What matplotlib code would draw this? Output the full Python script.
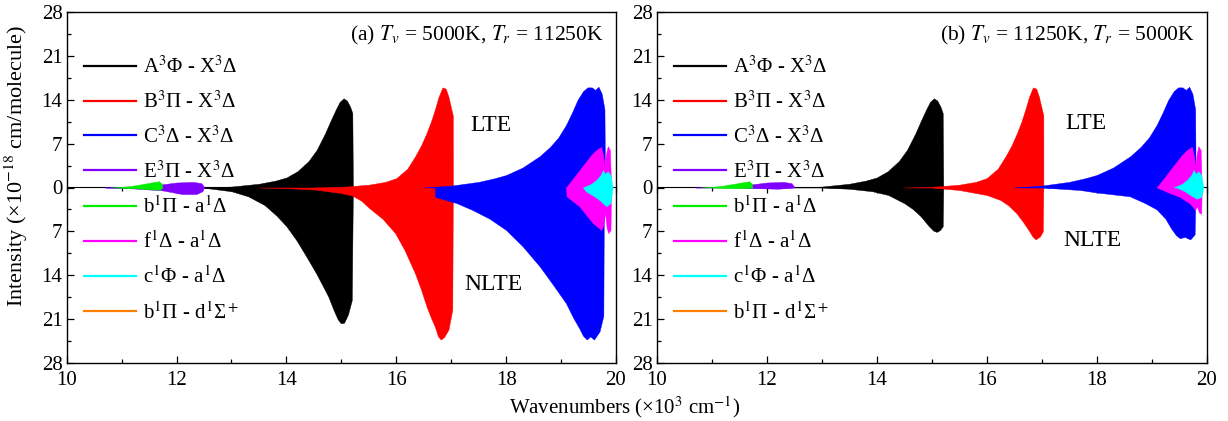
import matplotlib
matplotlib.use("Agg")
import matplotlib.pyplot as plt
from matplotlib.lines import Line2D
from matplotlib.ticker import MultipleLocator, FuncFormatter, NullFormatter

plt.rcParams['font.family'] = ['Liberation Serif', 'DejaVu Serif']
plt.rcParams['mathtext.fontset'] = 'stix'

# ---------------- data (envelopes) ----------------
# wavenumber in 10^3 cm^-1, intensity in 10^-18 cm/molecule (NLTE plotted negative)
A_lte = [(12.5, 0), (13.0, 0.15), (13.5, 0.6), (13.8, 1.1), (14.0, 1.6), (14.2, 2.6),
         (14.4, 4.2), (14.55, 6.0), (14.7, 8.6), (14.8, 10.6), (14.9, 12.5), (14.97, 13.7),
         (15.04, 14.25), (15.1, 13.9), (15.16, 12.9), (15.2, 11.9), (15.21, 0)]
A_nlte_a = [(12.3, 0), (12.6, -0.15), (13.0, -0.6), (13.3, -1.4), (13.6, -2.8), (13.82, -4.5),
            (14.0, -6.2), (14.18, -8.4), (14.36, -11.0), (14.54, -13.7), (14.66, -15.7),
            (14.76, -17.4), (14.86, -19.6), (14.93, -21.0), (14.99, -21.7), (15.05, -21.6),
            (15.12, -20.3), (15.19, -18.0), (15.21, 0)]
A_nlte_b = [(13.0, 0), (13.5, -0.2), (13.92, -0.6), (14.21, -1.2), (14.5, -2.5), (14.65, -3.4),
            (14.8, -4.6), (14.95, -6.2), (15.03, -6.9), (15.09, -7.1), (15.15, -6.8),
            (15.2, -6.2), (15.21, 0)]

B_lte = [(14.5, 0), (15.0, 0.1), (15.5, 0.45), (15.8, 0.9), (16.0, 1.5), (16.2, 3.0),
         (16.34, 4.95), (16.45, 6.7), (16.55, 8.7), (16.63, 10.5), (16.7, 12.4), (16.77, 14.5),
         (16.84, 16.0), (16.9, 15.8), (16.95, 14.5), (17.0, 12.6), (17.03, 11.5), (17.031, 0)]
B_nlte_a = [(13.5, 0), (14.0, -0.1), (14.5, -0.3), (15.0, -0.9), (15.2, -1.3), (15.36, -2.1),
            (15.51, -3.3), (15.75, -5.0), (15.98, -7.3), (16.15, -10.0), (16.34, -13.7),
            (16.45, -16.3), (16.55, -19.0), (16.63, -20.8), (16.7, -22.2), (16.76, -23.8),
            (16.81, -24.3), (16.87, -23.9), (16.95, -22.7), (17.02, -19.5), (17.03, 0)]
B_nlte_b = [(15.0, 0), (15.5, -0.4), (16.0, -1.2), (16.25, -2.0), (16.4, -2.9), (16.54, -4.1),
            (16.66, -5.5), (16.76, -6.8), (16.83, -7.8), (16.89, -8.3), (16.97, -7.8),
            (17.02, -7.0), (17.03, 0)]

C_lte = [(16.5, 0), (17.0, 0.3), (17.5, 0.9), (17.8, 1.5), (18.0, 2.0), (18.3, 3.2),
         (18.61, 5.0), (18.8, 6.5), (18.95, 8.0), (19.09, 10.0), (19.2, 12.0), (19.3, 14.0),
         (19.4, 15.4), (19.48, 16.0), (19.56, 16.0), (19.62, 15.6), (19.68, 16.1),
         (19.74, 15.0), (19.79, 12.5), (19.8, 0)]
C_nlte_a = [(16.7, 0), (16.71, -1.5), (16.79, -1.7), (17.1, -2.5), (17.39, -3.6), (17.7, -5.0),
            (18.0, -6.8), (18.3, -9.4), (18.61, -12.6), (18.85, -15.5), (19.09, -18.5),
            (19.22, -20.8), (19.33, -22.5), (19.4, -23.7), (19.47, -24.3), (19.53, -23.8),
            (19.6, -24.3), (19.7, -23.0), (19.77, -20.5), (19.78, 0)]
C_nlte_b = [(17.0, 0), (17.7, -0.4), (18.0, -0.8), (18.6, -1.4), (18.88, -2.5), (19.09, -3.5),
            (19.25, -5.0), (19.35, -6.5), (19.44, -7.6), (19.51, -8.1), (19.6, -7.9),
            (19.7, -8.3), (19.78, -7.5), (19.8, 0)]

E_lte = [(10.7, 0), (11.5, 0.05), (11.73, 0.5), (12.0, 0.8), (12.3, 0.9), (12.45, 0.7), (12.51, 0)]
E_nlte_a = [(10.7, 0), (11.2, -0.15), (11.73, -0.45), (11.8, -0.55), (12.1, -1.05),
            (12.36, -1.05), (12.47, -0.6), (12.5, 0)]
E_nlte_b = [(11.5, 0), (11.8, -0.1), (12.2, -0.2), (12.5, 0)]

b_lte = [(10.8, 0), (11.0, 0.1), (11.21, 0.3), (11.51, 0.75), (11.68, 1.0), (11.73, 0.6), (11.74, 0)]
b_nlte_a = [(10.9, 0), (11.3, -0.15), (11.5, -0.3), (11.7, -0.35), (11.74, 0)]
b_nlte_b = [(11.0, 0), (11.5, -0.1), (11.74, 0)]

f_lte = [(19.09, 0), (19.25, 1.8), (19.39, 3.4), (19.55, 5.2), (19.64, 6.0), (19.73, 6.5),
         (19.77, 5.0), (19.79, 3.4), (19.82, 5.5), (19.85, 6.6), (19.89, 6.0), (19.91, 0)]
f_nlte_a = [(19.09, 0), (19.1, -1.4), (19.33, -3.0), (19.58, -5.7), (19.73, -6.8),
            (19.77, -6.0), (19.8, -4.0), (19.83, -6.5), (19.86, -7.3), (19.9, -6.8), (19.91, 0)]
f_nlte_b = [(19.1, 0), (19.3, -0.8), (19.51, -1.5), (19.7, -2.6), (19.79, -3.6),
            (19.82, -3.0), (19.86, -4.0), (19.9, -4.2), (19.91, 0)]

c_lte = [(19.4, 0), (19.55, 0.6), (19.64, 1.2), (19.72, 2.0), (19.76, 2.8), (19.8, 2.2),
         (19.85, 2.6), (19.9, 2.0), (19.94, 0)]
c_nlte_a = [(19.4, 0), (19.45, -0.6), (19.6, -1.4), (19.7, -2.0), (19.82, -3.0), (19.9, -2.5), (19.94, 0)]
c_nlte_b = [(19.45, 0), (19.6, -0.6), (19.7, -1.2), (19.82, -1.8), (19.9, -1.5), (19.94, 0)]

band_labels = ['A$^3$Φ - X$^3$Δ', 'B$^3$Π - X$^3$Δ', 'C$^3$Δ - X$^3$Δ', 'E$^3$Π - X$^3$Δ',
               'b$^1$Π - a$^1$Δ', 'f$^1$Δ - a$^1$Δ', 'c$^1$Φ - a$^1$Δ', 'b$^1$Π - d$^1$Σ$^+$']
band_colors = ['#000000', '#ff0000', '#0000ff', '#8000ff', '#00ee00', '#ff00ff', '#00ffff', '#ff8000']

panel_titles = ['(a) $T_v$ = 5000K, $T_r$ = 11250K', '(b) $T_v$ = 11250K, $T_r$ = 5000K']
lte_pos = [(17.73, 9.86), (17.8, 10.3)]
nlte_pos = [(17.77, -15.55), (17.93, -8.5)]

# drawing order: legend order (orange band is too weak to be visible)
lte_sets = [A_lte, B_lte, C_lte, E_lte, b_lte, f_lte, c_lte]
nlte_sets = [
    [A_nlte_a, B_nlte_a, C_nlte_a, E_nlte_a, b_nlte_a, f_nlte_a, c_nlte_a],
    [A_nlte_b, B_nlte_b, C_nlte_b, E_nlte_b, b_nlte_b, f_nlte_b, c_nlte_b],
]

# ---------------- figure ----------------
W, H = 1228, 421
fig = plt.figure(figsize=(W / 100, H / 100), dpi=100)
bottom = 1 - 362.7 / H
height = 350.4 / H
ax1 = fig.add_axes([66.7 / W, bottom, 549.3 / W, height])
ax2 = fig.add_axes([656.7 / W, bottom, 550.0 / W, height])

FS = 15

for i, ax in enumerate([ax1, ax2]):
    for k in range(len(lte_sets)):
        for env in (lte_sets[k], nlte_sets[i][k]):
            x = [p[0] for p in env]
            y = [p[1] for p in env]
            ax.fill_between(x, 0, y, color=band_colors[k], linewidth=0.3,
                            edgecolor=band_colors[k], zorder=2 + k * 0.01)
    ax.set_xlim(10, 20)
    ax.set_ylim(-28, 28)
    ax.xaxis.set_major_locator(MultipleLocator(2))
    ax.xaxis.set_minor_locator(MultipleLocator(1))
    ax.yaxis.set_major_locator(MultipleLocator(7))
    ax.yaxis.set_minor_locator(MultipleLocator(3.5))
    ax.yaxis.set_major_formatter(FuncFormatter(lambda v, p: '%d' % abs(round(v))))
    ax.tick_params(which='both', direction='in', top=False, right=False, labelsize=FS, pad=3)
    ax.tick_params(axis='x', which='both', pad=6)
    ax.tick_params(which='major', length=5, width=0.9)
    ax.tick_params(which='minor', length=3, width=0.9)
    for s in ax.spines.values():
        s.set_linewidth(1.0)
    # zero axis line with ticks
    sec = ax.secondary_xaxis(0.5)
    sec.xaxis.set_major_locator(MultipleLocator(2))
    sec.xaxis.set_minor_locator(MultipleLocator(1))
    sec.xaxis.set_major_formatter(NullFormatter())
    sec.tick_params(which='both', direction='in', labelbottom=False, width=0.9)
    sec.tick_params(which='major', length=4)
    sec.tick_params(which='minor', length=3)
    sec.spines['bottom'].set_linewidth(1.8)

    ax.text(0.978, 0.935, panel_titles[i], transform=ax.transAxes, ha='right', va='center',
            fontsize=15.5)
    ax.text(lte_pos[i][0], lte_pos[i][1], 'LTE', ha='center', va='center', fontsize=17)
    ax.text(nlte_pos[i][0], nlte_pos[i][1], 'NLTE', ha='center', va='center', fontsize=17)

    handles = [Line2D([], [], color=c, lw=1.6) for c in band_colors]
    ax.legend(handles, band_labels, loc='upper left', bbox_to_anchor=(0.031, 0.874),
              frameon=False, fontsize=FS, handlelength=2.5, handletextpad=0.35,
              labelspacing=0.65, borderaxespad=0, borderpad=0)

ax1.set_ylabel('Intensity (×10$^{-18}$ cm/molecule)', fontsize=16)
ax1.yaxis.set_label_coords(-0.067, 0.561)
fig.text(625 / W, 1 - 407 / H, 'Wavenumbers (×10$^3$ cm$^{-1}$)', ha='center', va='center',
         fontsize=FS)

fig.savefig('out.png', dpi=100)
